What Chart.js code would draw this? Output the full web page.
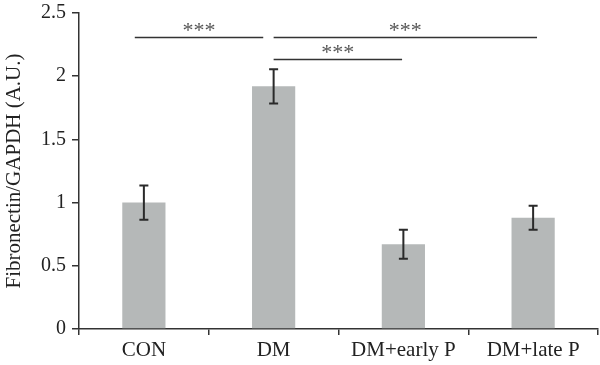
<!DOCTYPE html>
<html>
<head>
<meta charset="utf-8">
<script src="https://cdn.jsdelivr.net/npm/chart.js@4/dist/chart.umd.min.js"></script>
<style>
  html, body { margin: 0; padding: 0; background: #fff; }
</style>
</head>
<body>
<canvas id="chart" width="600" height="365"></canvas>
<script>
// data
const categories = ['CON', 'DM', 'DM+early P', 'DM+late P'];
const means = [1.00, 1.92, 0.67, 0.88];
const errors = [0.135, 0.135, 0.115, 0.095];
const yTicks = [0, 0.5, 1, 1.5, 2, 2.5];

// significance brackets (category units / value units)
const sigStart = [-0.07, 1.0, 1.0];
const sigEnd = [0.92, 3.03, 1.99];
const sigLevel = [2.31, 2.31, 2.135];
const sigLabel = ['***', '***', '***'];

const FONT = "'Liberation Serif', 'Times New Roman', serif";
const INK = '#222';

// error bars
const errorBars = {
  id: 'errorBars',
  afterDatasetsDraw(chart) {
    const { ctx, scales: { x, y } } = chart;
    ctx.save();
    ctx.strokeStyle = '#2a2a2a';
    ctx.lineWidth = 2;
    means.forEach((m, i) => {
      const px = x.getPixelForValue(i);
      const top = y.getPixelForValue(m + errors[i]);
      const bot = y.getPixelForValue(m - errors[i]);
      ctx.beginPath();
      ctx.moveTo(px, top); ctx.lineTo(px, bot);
      ctx.moveTo(px - 4.5, top); ctx.lineTo(px + 4.5, top);
      ctx.moveTo(px - 4.5, bot); ctx.lineTo(px + 4.5, bot);
      ctx.stroke();
    });
    ctx.restore();
  }
};

// *** comparison lines
const sigLines = {
  id: 'sigLines',
  afterDatasetsDraw(chart) {
    const { ctx, scales: { x, y } } = chart;
    ctx.save();
    ctx.strokeStyle = '#333';
    ctx.lineWidth = 1.5;
    ctx.fillStyle = '#555';
    ctx.font = '22px ' + FONT;
    ctx.textAlign = 'center';
    ctx.textBaseline = 'alphabetic';
    sigLabel.forEach((lab, i) => {
      const x0 = x.getPixelForValue(sigStart[i]);
      const x1 = x.getPixelForValue(sigEnd[i]);
      const py = Math.round(y.getPixelForValue(sigLevel[i])) + 0.5;
      ctx.beginPath();
      ctx.moveTo(x0, py); ctx.lineTo(x1, py);
      ctx.stroke();
      ctx.fillText(lab, (x0 + x1) / 2, py - 1);
    });
    ctx.restore();
  }
};

new Chart(document.getElementById('chart'), {
  type: 'bar',
  data: {
    labels: categories,
    datasets: [{
      data: means,
      backgroundColor: '#b5b8b8',
      borderWidth: 0,
      barPercentage: 1,
      categoryPercentage: 0.333
    }]
  },
  options: {
    responsive: false,
    animation: false,
    layout: { padding: { top: 13, right: 2, left: 0, bottom: 0 } },
    plugins: { legend: { display: false }, tooltip: { enabled: false } },
    scales: {
      x: {
        grid: { display: true, drawOnChartArea: false, color: '#333', lineWidth: 1.5, tickLength: 6 },
        border: { display: true, color: '#333', width: 1.5 },
        ticks: { color: INK, font: { family: FONT, size: 21 }, padding: 3, maxRotation: 0 },
        afterFit(s) { s.height = 36; s.paddingLeft = 0; s.paddingRight = 0; }
      },
      y: {
        min: 0,
        max: 2.5,
        afterBuildTicks(s) { s.ticks = yTicks.map(v => ({ value: v })); },
        grid: { display: true, drawOnChartArea: false, color: '#333', lineWidth: 1.5, tickLength: 7 },
        border: { display: true, color: '#333', width: 1.5 },
        ticks: { color: INK, font: { family: FONT, size: 20 }, padding: 6, callback: v => String(v) },
        title: {
          display: true,
          text: 'Fibronectin/GAPDH (A.U.)',
          color: INK,
          font: { family: FONT, size: 21 },
          padding: { top: 2, bottom: 0 }
        },
        afterFit(s) { s.width = 79; s.paddingTop = 0; s.paddingBottom = 0; }
      }
    }
  },
  plugins: [errorBars, sigLines]
});
</script>
</body>
</html>
